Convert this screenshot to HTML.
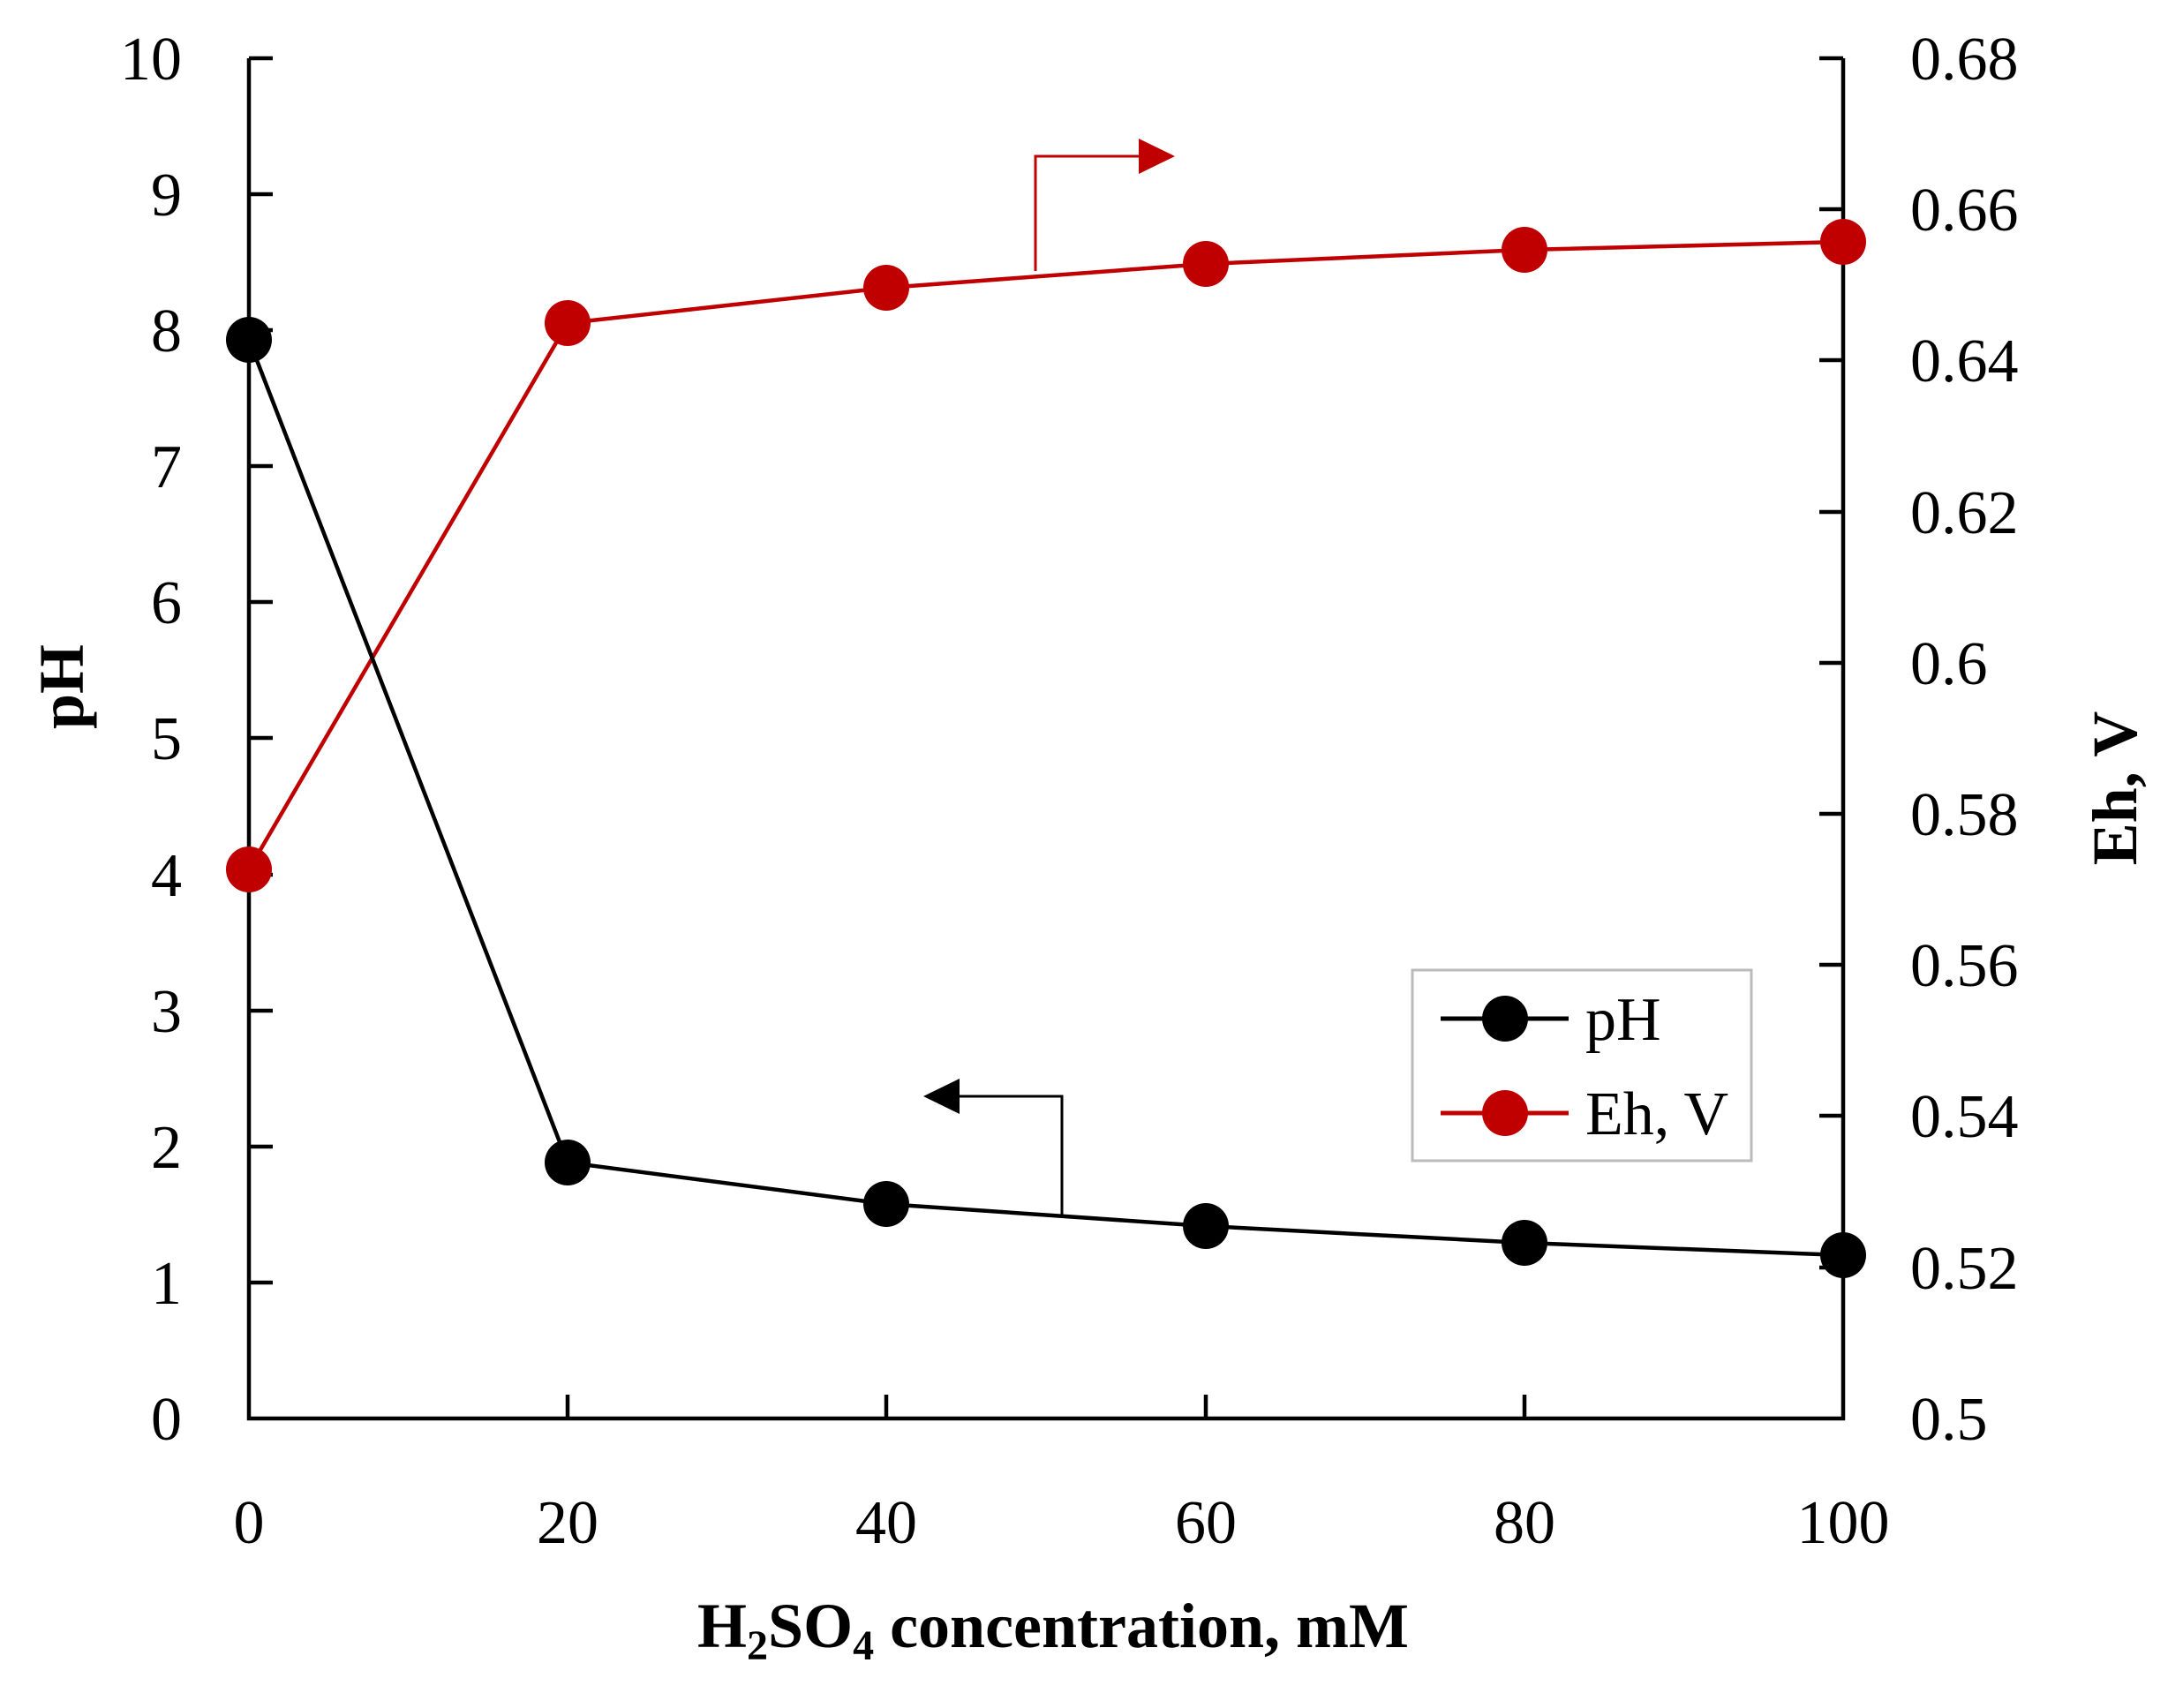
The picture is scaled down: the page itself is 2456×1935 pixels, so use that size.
<!DOCTYPE html>
<html><head><meta charset="utf-8"><style>
html,body{margin:0;padding:0;background:#fff;}
svg{display:block;}
text{font-family:"Liberation Serif",serif;fill:#000;}
</style></head><body>
<svg width="2456" height="1935" viewBox="0 0 2456 1935" xmlns="http://www.w3.org/2000/svg">
<g stroke="#000" stroke-width="4.5" fill="none">
<polyline points="282,66 282,1607 2088,1607 2088,66"/>
<path d="M282,66h27M282,220h27M282,374h27M282,528h27M282,682h27M282,836h27M282,991h27M282,1145h27M282,1299h27M282,1453h27"/>
<path d="M2088,66h-27M2088,237h-27M2088,408h-27M2088,580h-27M2088,751h-27M2088,922h-27M2088,1093h-27M2088,1264h-27M2088,1436h-27"/>
<path d="M643,1607v-27M1004,1607v-27M1366,1607v-27M1727,1607v-27"/>
</g>
<g font-size="70" text-anchor="end">
<text x="206" y="90">10</text><text x="206" y="244">9</text><text x="206" y="398">8</text>
<text x="206" y="552">7</text><text x="206" y="706">6</text><text x="206" y="860">5</text>
<text x="206" y="1015">4</text><text x="206" y="1169">3</text><text x="206" y="1323">2</text>
<text x="206" y="1477">1</text><text x="206" y="1631">0</text>
</g>
<g font-size="70">
<text x="2164" y="90">0.68</text><text x="2164" y="261">0.66</text><text x="2164" y="432">0.64</text>
<text x="2164" y="604">0.62</text><text x="2164" y="775">0.6</text><text x="2164" y="946">0.58</text>
<text x="2164" y="1117">0.56</text><text x="2164" y="1288">0.54</text><text x="2164" y="1460">0.52</text>
<text x="2164" y="1631">0.5</text>
</g>
<g font-size="70" text-anchor="middle">
<text x="282" y="1748">0</text><text x="643" y="1748">20</text><text x="1004" y="1748">40</text>
<text x="1366" y="1748">60</text><text x="1727" y="1748">80</text><text x="2088" y="1748">100</text>
</g>
<text x="1193" y="1866" font-size="72" font-weight="bold" text-anchor="middle">H<tspan font-size="48" dy="14">2</tspan><tspan dy="-14">SO</tspan><tspan font-size="48" dy="14">4</tspan><tspan dy="-14"> concentration, mM</tspan></text>
<text transform="translate(94,778) rotate(-90)" font-size="72" font-weight="bold" text-anchor="middle">pH</text>
<text transform="translate(2420,893) rotate(-90)" font-size="72" font-weight="bold" text-anchor="middle">Eh, V</text>
<polyline points="282,985 643,366 1004,326 1366,299 1727,283 2088,274" fill="none" stroke="#c00000" stroke-width="4.5"/>
<polyline points="282,385 643,1317 1004,1364 1366,1389 1727,1408 2088,1422" fill="none" stroke="#000" stroke-width="4.5"/>
<g fill="#c00000">
<circle cx="282" cy="985" r="26"/><circle cx="643" cy="366" r="26"/><circle cx="1004" cy="326" r="26"/>
<circle cx="1366" cy="299" r="26"/><circle cx="1727" cy="283" r="26"/><circle cx="2088" cy="274" r="26"/>
</g>
<g fill="#000">
<circle cx="282" cy="385" r="26"/><circle cx="643" cy="1317" r="26"/><circle cx="1004" cy="1364" r="26"/>
<circle cx="1366" cy="1389" r="26"/><circle cx="1727" cy="1408" r="26"/><circle cx="2088" cy="1422" r="26"/>
</g>
<polyline points="1173,307 1173,177 1295,177" fill="none" stroke="#c00000" stroke-width="3"/>
<polygon points="1290,157 1331,177 1290,197" fill="#c00000"/>
<polyline points="1203,1378 1203,1242 1082,1242" fill="none" stroke="#000" stroke-width="3"/>
<polygon points="1087,1222 1046,1242 1087,1262" fill="#000"/>
<rect x="1600" y="1099" width="384" height="216" fill="#fff" stroke="#bbb" stroke-width="3"/>
<line x1="1632" y1="1154" x2="1777" y2="1154" stroke="#000" stroke-width="5"/>
<circle cx="1705" cy="1154" r="26" fill="#000"/>
<line x1="1632" y1="1261" x2="1777" y2="1261" stroke="#c00000" stroke-width="5"/>
<circle cx="1705" cy="1261" r="26" fill="#c00000"/>
<text x="1796" y="1178" font-size="70">pH</text>
<text x="1796" y="1285" font-size="70">Eh, V</text>
</svg>
</body></html>
